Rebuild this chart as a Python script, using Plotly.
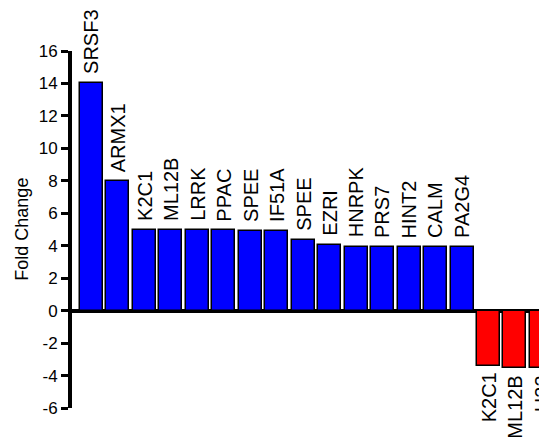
import plotly.graph_objects as go

genes = ["SRSF3", "ARMX1", "K2C1", "ML12B", "LRRK", "PPAC", "SPEE", "IF51A", "SPEE",
         "EZRI", "HNRPK", "PRS7", "HINT2", "CALM", "PA2G4", "K2C1", "ML12B", "H33"]
fold_change = [14.0, 8.0, 5.0, 5.0, 5.0, 4.95, 4.9, 4.9, 4.35,
               4.05, 3.95, 3.9, 3.9, 3.9, 3.9, -3.4, -3.55, -3.55]
y_ticks = [-6, -4, -2, 0, 2, 4, 6, 8, 10, 12, 14, 16]
y_tick_labels = ["-6", "-4", "-2", "0", "2", "4", "6", "8", "10", "12", "14", "16"]

UP_COLOR = "#0000FF"
DOWN_COLOR = "#FF0000"
FONT = "Arial, Liberation Sans, sans-serif"

xs = list(range(len(genes)))
colors = [UP_COLOR if v >= 0 else DOWN_COLOR for v in fold_change]

fig = go.Figure()
fig.add_trace(go.Bar(
    x=xs, y=fold_change, width=0.87,
    marker=dict(color=colors, line=dict(color="black", width=1.5)),
    hoverinfo="skip", showlegend=False,
))

annotations = []
for x, v, g in zip(xs, fold_change, genes):
    if v >= 0:
        annotations.append(dict(x=x, y=v, xref="x", yref="y", text=g, textangle=-90,
                                showarrow=False, xanchor="center", yanchor="bottom",
                                yshift=7, font=dict(family=FONT, size=20, color="black")))
    else:
        annotations.append(dict(x=x, y=v, xref="x", yref="y", text=g, textangle=-90,
                                showarrow=False, xanchor="center", yanchor="top",
                                yshift=-5, font=dict(family=FONT, size=20, color="black")))

annotations.append(dict(x=-0.107, y=0.5, xref="paper", yref="paper", text="Fold Change",
                        textangle=-90, showarrow=False, xanchor="center", yanchor="middle",
                        font=dict(family=FONT, size=18, color="black")))

# page body has an 8px margin; size the figure so it fills the 547x440 window
fig.update_layout(
    width=539, height=432,
    margin=dict(l=64, r=0, t=43, b=32),
    plot_bgcolor="white", paper_bgcolor="white",
    bargap=0,
    annotations=annotations,
    xaxis=dict(range=[-0.737, 17.21], showticklabels=False, showline=False,
               showgrid=False, zeroline=False, ticks=""),
    yaxis=dict(range=[-6, 16], tickvals=y_ticks, ticktext=y_tick_labels, showgrid=False,
               showline=True, linecolor="black", linewidth=4,
               ticks="outside", ticklen=7, tickwidth=3, tickcolor="black",
               zeroline=True, zerolinecolor="black", zerolinewidth=4,
               tickfont=dict(family=FONT, size=17, color="black")),
)

fig.write_html("out.html")
